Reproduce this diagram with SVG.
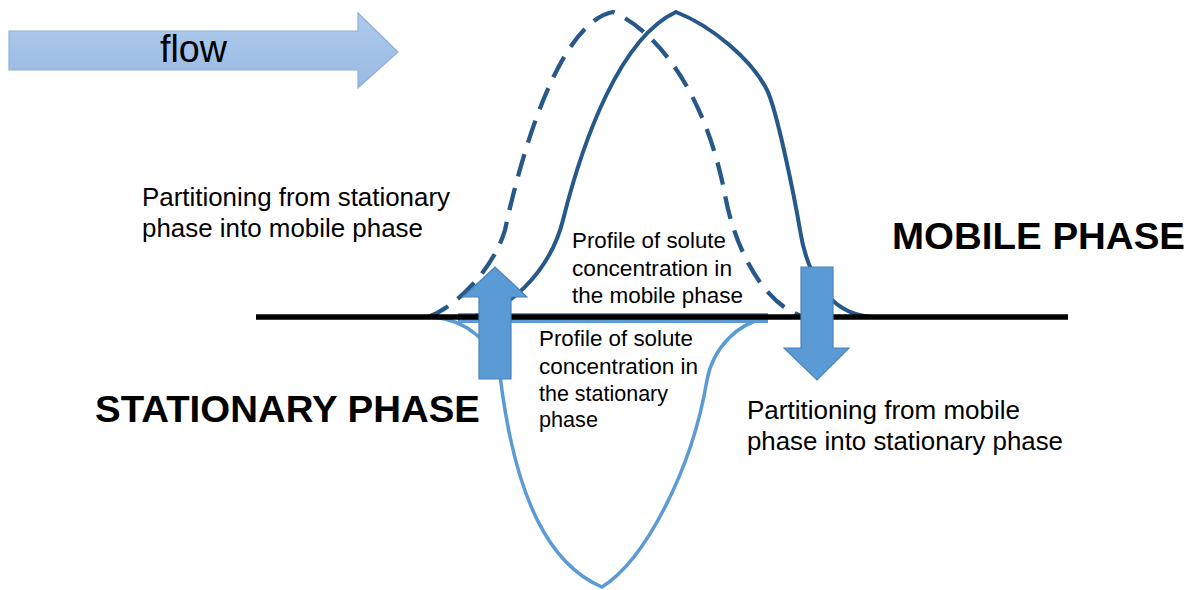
<svg xmlns="http://www.w3.org/2000/svg" width="1193" height="590" viewBox="0 0 1193 590">
<defs>
<linearGradient id="flowGrad" x1="0" y1="0" x2="0" y2="1">
<stop offset="0" stop-color="#afcbec"/>
<stop offset="1" stop-color="#98b9e3"/>
</linearGradient>
</defs>
<style>
text{font-family:"Liberation Sans",Arial,sans-serif;fill:#000}
.lbl{font-size:26px}
.prof{font-size:22px}
.big{font-size:37px;font-weight:bold}
.mob{fill:none;stroke:#26588a;stroke-width:4;stroke-linecap:butt}
.dash{stroke-width:4.3;stroke-dasharray:23 12}
.stat{fill:none;stroke:#5b9bd5;stroke-width:3.5}
.barrow{fill:#5b9bd5;stroke:#4a83bd;stroke-width:1.2}
</style>
<rect width="1193" height="590" fill="#ffffff"/>

<g id="flow-arrow">
<path d="M9,31 L358,31 L358,13 L398,52 L358,88 L358,70 L9,70 Z" fill="url(#flowGrad)" stroke="#8fb0db" stroke-width="1.2"/>
<text x="160" y="62" style="font-size:38px" textLength="67" lengthAdjust="spacingAndGlyphs">flow</text>
</g>

<g id="stationary-profile">
<line x1="458" y1="318" x2="768" y2="318" stroke="#5b9bd5" stroke-width="10"/>
<path class="stat" d="M433,317 C465,320 492,340 500,375 C515,500 550,565 602,587 C645,560 692,470 707,380 C713,348 738,322 768,318"/>
</g>

<g id="mobile-profile">
<path class="mob dash" d="M428,317 C460,305 495,265 505,230 C522,150 560,22 613,12 C655,30 705,90 725,195 C733,240 760,305 805,317"/>
<path class="mob" d="M466,317 C505,316 550,272 563,220 C583,140 620,38 676,12 C712,26 752,60 767,90 C777,110 795,200 800,230 C806,268 825,314 872,317"/>
</g>

<g id="baseline">
<line x1="256" y1="317" x2="1068" y2="317" stroke="#000" stroke-width="5.5"/>
</g>

<g id="arrow-up">
<path class="barrow" d="M479,379 L479,297 L463,297 L495,267 L527,297 L511,297 L511,379 Z"/>
</g>
<g id="arrow-down">
<path class="barrow" d="M801,267 L833,267 L833,348 L849,348 L817,380 L784,348 L801,348 Z"/>
</g>

<g id="label-stat-to-mobile">
<text class="lbl" x="142" y="206" textLength="308" lengthAdjust="spacingAndGlyphs">Partitioning from stationary</text>
<text class="lbl" x="142" y="237" textLength="281" lengthAdjust="spacingAndGlyphs">phase into mobile phase</text>
</g>
<g id="label-mobile-phase">
<text class="big" x="892" y="249" textLength="293" lengthAdjust="spacingAndGlyphs">MOBILE PHASE</text>
</g>
<g id="label-stationary-phase">
<text class="big" x="95" y="422" textLength="385" lengthAdjust="spacingAndGlyphs">STATIONARY PHASE</text>
</g>
<g id="label-mobile-profile">
<text class="prof" x="572" y="248" textLength="154" lengthAdjust="spacingAndGlyphs">Profile of solute</text>
<text class="prof" x="572" y="276" textLength="160" lengthAdjust="spacingAndGlyphs">concentration  in</text>
<text class="prof" x="572" y="303" textLength="171" lengthAdjust="spacingAndGlyphs">the mobile phase</text>
</g>
<g id="label-stationary-profile">
<text class="prof" x="539" y="346" textLength="154" lengthAdjust="spacingAndGlyphs">Profile of solute</text>
<text class="prof" x="539" y="374" textLength="159" lengthAdjust="spacingAndGlyphs">concentration  in</text>
<text class="prof" x="539" y="401" textLength="129" lengthAdjust="spacingAndGlyphs">the stationary</text>
<text class="prof" x="539" y="427" textLength="59" lengthAdjust="spacingAndGlyphs">phase</text>
</g>
<g id="label-mobile-to-stat">
<text class="lbl" x="747" y="419" textLength="273" lengthAdjust="spacingAndGlyphs">Partitioning from mobile</text>
<text class="lbl" x="747" y="450" textLength="316" lengthAdjust="spacingAndGlyphs">phase into stationary phase</text>
</g>
</svg>
